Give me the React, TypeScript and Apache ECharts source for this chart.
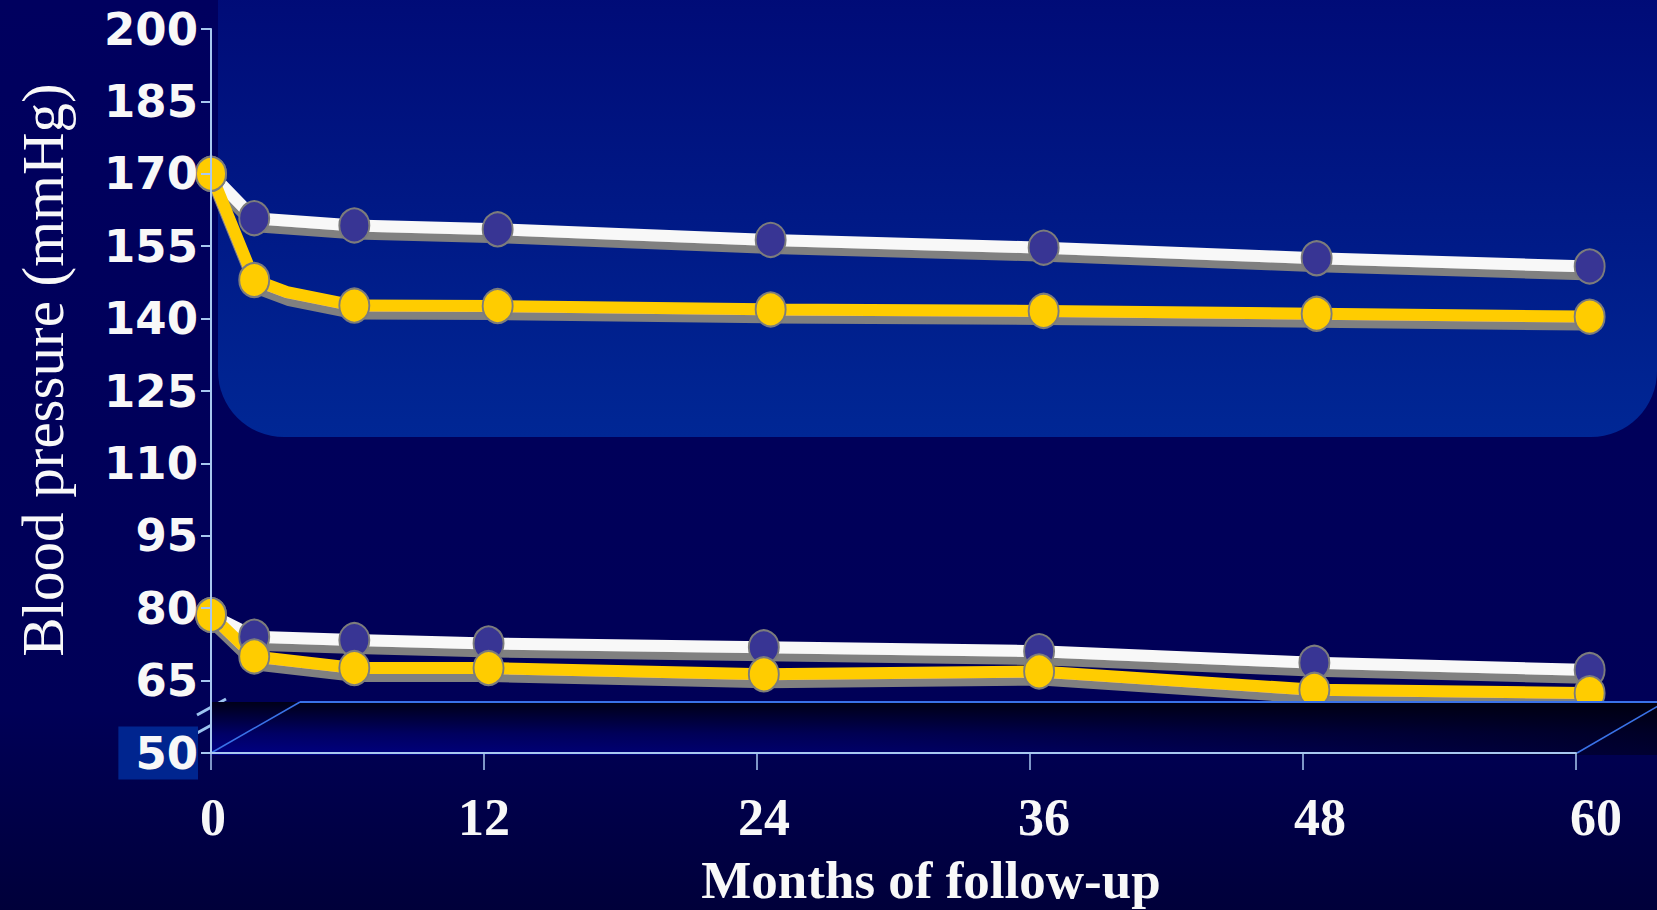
import React, { useEffect, useRef } from "react";
import * as echarts from "echarts";

// Follow-up months at which each curve was sampled (x positions as plotted)
const systolicMonths = [0, 1.9, 6.3, 12.6, 24.6, 36.6, 48.6, 60.6];
const diastolicMonths = [0, 1.9, 6.3, 12.2, 24.3, 36.4, 48.5, 60.6];

// Blood pressure values (mmHg)
const systolicNavy = [170, 160.8, 159.3, 158.5, 156.3, 154.7, 152.5, 150.8];
const systolicYellow = [170, 148.0, 142.7, 142.6, 141.9, 141.6, 141.0, 140.4];
const systolicYellowBend = [3.34, 145.5]; // unmarked vertex of the yellow systolic curve
const diastolicNavy = [78.6, 74.1, 73.4, 72.7, 71.9, 71.1, 68.7, 67.2];
const diastolicYellow = [78.6, 70.0, 67.6, 67.6, 66.3, 66.9, 63.1, 62.4];

// Axis ticks
const yTicks = [50, 65, 80, 95, 110, 125, 140, 155, 170, 185, 200];
const xTicks = [0, 12, 24, 36, 48, 60];

const pair = (xs: number[], ys: number[]) => xs.map((x, i) => [x, ys[i]]);

export default function App() {
  const ref = useRef<HTMLDivElement>(null);

  useEffect(() => {
    if (!ref.current) return;
    const chart = echarts.init(ref.current, undefined, { renderer: "svg" });

    const axisBlue = "#a8c8f0";
    const white = "#f8f8f8";
    const yellow = "#ffcc00";
    const navyDot = "#383594";
    const dotBorder = "#7c7c7c";

    const lineSeries = (data: any[], color: string, dot: string) => ({
      type: "line",
      data,
      clip: false,
      symbol: "circle",
      symbolSize: [30, 34],
      showSymbol: true,
      lineStyle: {
        color,
        width: 12,
        shadowColor: "#808080",
        shadowBlur: 0,
        shadowOffsetX: 2,
        shadowOffsetY: 8,
      },
      itemStyle: { color: dot, borderColor: dotBorder, borderWidth: 2 },
      emphasis: { disabled: true },
      z: 2,
    });

    const yellowSys: any[] = pair(systolicMonths, systolicYellow);
    yellowSys.splice(2, 0, { value: systolicYellowBend, symbol: "none" });

    const xPad: Record<number, number> = { 0: 4, 12: 0, 24: 14, 36: 28, 48: 34, 60: 40 };
    const xRich: Record<string, any> = {};
    xTicks.forEach((t) => {
      xRich["t" + t] = {
        fontFamily: "Liberation Serif",
        fontWeight: "bold",
        fontSize: 52,
        color: white,
        padding: [0, 0, 0, xPad[t]],
      };
    });

    const option: any = {
      animation: false,
      backgroundColor: new echarts.graphic.LinearGradient(0, 0, 0, 1, [
        { offset: 0, color: "#00005f" },
        { offset: 0.78, color: "#000057" },
        { offset: 1, color: "#00003a" },
      ]),
      grid: { left: 211, right: 81, top: 29, bottom: 157, containLabel: false },
      xAxis: {
        type: "value",
        min: 0,
        max: 60,
        interval: 12,
        z: 10,
        axisLine: { show: true, lineStyle: { color: axisBlue, width: 2 } },
        axisTick: { show: true, length: 17, lineStyle: { color: axisBlue, width: 1.5 } },
        splitLine: { show: false },
        axisLabel: {
          margin: 38,
          formatter: (v: number) => `{t${v}|${v}}`,
          rich: xRich,
        },
      },
      yAxis: {
        type: "value",
        min: 50,
        max: 200,
        z: 10,
        axisLine: { show: true, lineStyle: { color: axisBlue, width: 2 } },
        axisTick: {
          show: true,
          length: 10,
          customValues: yTicks,
          lineStyle: { color: axisBlue, width: 2 },
        },
        splitLine: { show: false },
        axisLabel: {
          customValues: yTicks,
          margin: 13,
          fontFamily: "DejaVu Sans",
          fontWeight: "bold",
          fontSize: 45,
          color: white,
          formatter: (v: number) => (v === 50 ? `{b|${v}}` : `${v}`),
          rich: {
            b: {
              fontFamily: "DejaVu Sans",
              fontWeight: "bold",
              fontSize: 45,
              color: white,
              lineHeight: 45,
              backgroundColor: "#00258f",
              padding: [4, 0, 4, 17],
            },
          },
        },
      },
      series: [
        lineSeries(pair(systolicMonths, systolicNavy), white, navyDot),
        lineSeries(pair(diastolicMonths, diastolicNavy), white, navyDot),
        lineSeries(yellowSys, yellow, yellow),
        lineSeries(pair(diastolicMonths, diastolicYellow), yellow, yellow),
      ],
      graphic: [
        // upper panel behind the systolic curves
        {
          type: "rect",
          z: 0,
          shape: { x: 218, y: -20, width: 1439, height: 457, r: [0, 0, 66, 66] },
          style: {
            fill: new echarts.graphic.LinearGradient(0, 0, 0, 1, [
              { offset: 0, color: "#000a76" },
              { offset: 1, color: "#002795" },
            ]),
          },
        },
        // axis break marks
        {
          type: "line",
          z: 4,
          shape: { x1: 197, y1: 715, x2: 226, y2: 699 },
          style: { stroke: "#9cc4f0", lineWidth: 3 },
        },
        {
          type: "line",
          z: 4,
          shape: { x1: 197, y1: 733, x2: 226, y2: 717 },
          style: { stroke: "#9cc4f0", lineWidth: 3 },
        },
        // floor of the plot
        {
          type: "rect",
          z: 5,
          shape: { x: 211, y: 702, width: 1446, height: 53 },
          style: {
            fill: new echarts.graphic.LinearGradient(0, 0, 1, 0, [
              { offset: 0, color: "#000084" },
              { offset: 0.45, color: "#00006a" },
              { offset: 1, color: "#000030" },
            ]),
          },
        },
        {
          type: "rect",
          z: 5,
          shape: { x: 211, y: 702, width: 1446, height: 53 },
          style: {
            fill: new echarts.graphic.LinearGradient(0, 0, 0, 1, [
              { offset: 0, color: "rgba(0,0,12,0.9)" },
              { offset: 0.6, color: "rgba(0,0,12,0.25)" },
              { offset: 1, color: "rgba(0,0,12,0)" },
            ]),
          },
        },
        {
          type: "line",
          z: 6,
          shape: { x1: 300, y1: 702, x2: 1657, y2: 702 },
          style: { stroke: "#3a72e8", lineWidth: 2 },
        },
        {
          type: "line",
          z: 6,
          shape: { x1: 211, y1: 753, x2: 300, y2: 702 },
          style: { stroke: "#3a72e8", lineWidth: 1.5 },
        },
        {
          type: "line",
          z: 6,
          shape: { x1: 1577, y1: 753, x2: 1665, y2: 702 },
          style: { stroke: "#3a72e8", lineWidth: 1.5 },
        },
        // axis titles
        {
          type: "text",
          z: 10,
          x: 43,
          y: 370,
          rotation: Math.PI / 2,
          style: {
            text: "Blood pressure (mmHg)",
            fontFamily: "Liberation Serif",
            fontSize: 59,
            fill: white,
            align: "center",
            verticalAlign: "middle",
          },
        },
        {
          type: "text",
          z: 10,
          x: 931,
          y: 880,
          style: {
            text: "Months of follow-up",
            fontFamily: "Liberation Serif",
            fontWeight: "bold",
            fontSize: 53,
            fill: white,
            align: "center",
            verticalAlign: "middle",
          },
        },
      ],
    };

    chart.setOption(option);
    return () => chart.dispose();
  }, []);

  return (
    <div
      ref={ref}
      style={{ position: "fixed", left: 0, top: 0, width: 1657, height: 910 }}
    />
  );
}
